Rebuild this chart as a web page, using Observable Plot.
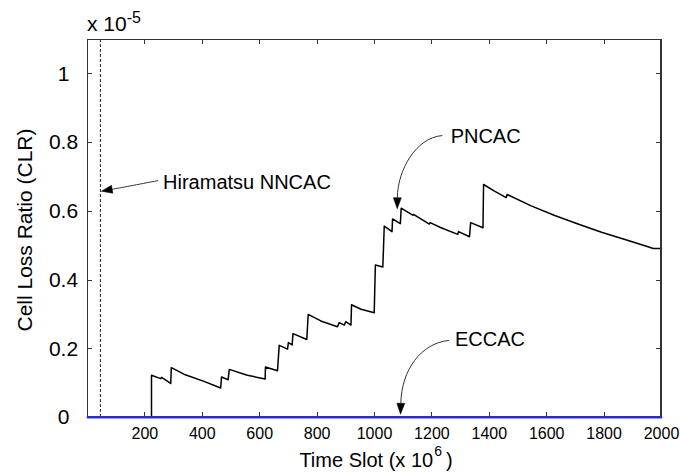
<!DOCTYPE html>
<html><head><meta charset="utf-8">
<script src="https://cdn.jsdelivr.net/npm/d3@7"></script>
<script src="https://cdn.jsdelivr.net/npm/@observablehq/plot@0.6"></script>
<style>
body{margin:0;background:#fff}
#chart{width:680px;height:474px}
</style>
</head><body><div id="chart"></div>
<script>
// ---- data (CLR in units of 1e-5, time slot in units of 1e6) ----
const pncacX = [223,223,255,258,290,292,336,406,464,467,490,494,557,619,620,662,668,697,700,713,716,764,769,813,871,877,895,900,918,920,953,999,1003,1029,1034,1061,1063,1090,1093,1133,1136,1191,1194,1230,1290,1293,1331,1335,1378,1380,1418,1459,1462,1546,1628,1709,1791,1884,1953,1971,2000];
const pncacY = [0,0.123,0.113,0.117,0.099,0.145,0.126,0.105,0.086,0.118,0.110,0.140,0.123,0.112,0.147,0.136,0.210,0.199,0.218,0.211,0.244,0.227,0.300,0.281,0.264,0.276,0.269,0.279,0.269,0.328,0.315,0.305,0.444,0.438,0.557,0.541,0.578,0.564,0.609,0.589,0.591,0.563,0.567,0.553,0.533,0.541,0.526,0.567,0.552,0.678,0.659,0.640,0.649,0.616,0.588,0.563,0.539,0.515,0.497,0.492,0.492];
const eccacX = [0, 2000];
const eccacY = [0, 0];
const hiramatsuX = [45];
const xTicks = [200,400,600,800,1000,1200,1400,1600,1800,2000];
const xTickMarks = [0,200,400,600,800,1000,1200,1400,1600,1800,2000];
const yTicks = [0,0.2,0.4,0.6,0.8,1];
const seriesNames = ["Hiramatsu NNCAC", "PNCAC", "ECCAC"];

const pncac = pncacX.map((x, i) => ({x, y: pncacY[i]}));
const eccac = eccacX.map((x, i) => ({x, y: eccacY[i]}));

// annotation geometry in data units: text anchor + cubic bezier (start, c1, c2, tip)
const annotations = [
  {label: seriesNames[0], at: [265, 0.685], path: [[248, 0.688], [180, 0.677], [110, 0.666], [50, 0.657]]},
  {label: seriesNames[1], at: [1267, 0.819], path: [[1238, 0.819], [1145, 0.813], [1082, 0.717], [1081, 0.606]]},
  {label: seriesNames[2], at: [1282, 0.226], path: [[1261, 0.223], [1162, 0.214], [1096, 0.136], [1092.5, 0.008]]}
];

const FONT = "'Liberation Sans', Arial, Helvetica, sans-serif";
const frameColor = "#333";

const chart = Plot.plot({
  width: 680,
  height: 474,
  marginLeft: 87,
  marginRight: 19,
  marginTop: 39,
  marginBottom: 57,
  x: {domain: [0, 2000], label: null},
  y: {domain: [0, 1.1], label: null},
  style: {fontFamily: FONT, background: "#fff", color: "#000", overflow: "visible"},
  marks: [
    Plot.ruleX(hiramatsuX, {stroke: "#222", strokeWidth: 1, strokeDasharray: "3,2"}),
    Plot.line(pncac, {x: "x", y: "y", stroke: "#000", strokeWidth: 1.5}),
    Plot.frame({stroke: frameColor, strokeWidth: 1}),
    Plot.line(eccac, {x: "x", y: "y", stroke: "#2a2aff", strokeWidth: 2}),
    Plot.axisX(xTicks, {anchor: "bottom", tickSize: 0, tickPadding: 10, fontSize: 16, tickFormat: d => String(d)}),
    Plot.axisY(yTicks, {anchor: "left", tickSize: 0, tickFormat: null, text: null, stroke: null}),
    Plot.text(yTicks, {y: d => d, frameAnchor: "left", dx: -24, textAnchor: "middle", lineAnchor: "middle", fontSize: 21, fill: "#000", text: d => String(+d.toFixed(1))})
  ]
});

document.getElementById("chart").appendChild(chart);

const svg = d3.select(chart);
const W = 680, H = 474, ML = 87, MR = 19, MT = 39, MB = 57;
const L = ML, R = W - MR, T = MT, B = H - MB;
const cx = (L + R) / 2, cy = (T + B) / 2;
const sx = chart.scale("x"), sy = chart.scale("y");
const X = v => sx.apply(v), Y = v => sy.apply(v);

// box edges and inward ticks on all four sides (positions from Plot's own scales)
const tg = svg.append("g").attr("stroke", frameColor).attr("stroke-width", 1)
  .attr("fill", "none").attr("shape-rendering", "crispEdges");
const x0 = Math.round(X(0)) + 0.5, x1 = Math.round(X(2000)) - 0.5;
const y0 = Math.round(Y(0)) - 0.5, y1 = Math.round(Y(1.1)) + 0.5;
tg.append("path").attr("d", `M${x0},${y1}H${x1}V${y0}H${x0}Z`);
for (const t of xTickMarks) {
  const px = Math.round(X(t)) + 0.5;
  tg.append("path").attr("d", `M${px},${B}V${B - 5}M${px},${T}V${T + 5}`);
}
for (const t of yTicks) {
  const py = Math.round(Y(t)) + 0.5;
  tg.append("path").attr("d", `M${L},${py}H${L + 5}M${R},${py}H${R - 5}`);
}

// annotation arrows with filled heads
const ag = svg.append("g");
for (const a of annotations) {
  const [s, c1, c2, e] = a.path.map(([dx, dy]) => [X(dx), Y(dy)]);
  let tx = e[0] - c2[0], ty = e[1] - c2[1];
  const n = Math.hypot(tx, ty) || 1; tx /= n; ty /= n;
  const len = 11, hw = 4;
  const bx = e[0] - tx * len, by = e[1] - ty * len;
  ag.append("path")
    .attr("d", `M${s[0]},${s[1]}C${c1[0]},${c1[1]} ${c2[0]},${c2[1]} ${bx},${by}`)
    .attr("fill", "none").attr("stroke", "#333").attr("stroke-width", 1);
  ag.append("path")
    .attr("d", `M${e[0]},${e[1]}L${bx - ty * hw},${by + tx * hw}L${bx + ty * hw},${by - tx * hw}Z`)
    .attr("fill", "#000").attr("stroke", "#000").attr("stroke-width", 0.5);
  ag.append("text")
    .attr("x", X(a.at[0])).attr("y", Y(a.at[1]))
    .attr("dy", "0.35em").attr("font-size", 20).attr("fill", "#000")
    .attr("text-anchor", "start").attr("font-family", FONT)
    .text(a.label);
}

// keep the blue ECCAC line above the box edge
svg.selectAll("g[aria-label='line']").filter((d, i, nodes) => i === nodes.length - 1).raise();

// axis titles and exponent label
const xl = svg.append("text").attr("x", cx + 2).attr("y", 467).attr("text-anchor", "middle")
  .attr("font-size", 20).attr("font-family", FONT).attr("fill", "#000");
xl.append("tspan").text("Time Slot (x 10");
xl.append("tspan").attr("dx", 1).attr("dy", -11).attr("font-size", 14).text("6");
xl.append("tspan").attr("dy", 11).text("\u2009)");

svg.append("text").attr("transform", `translate(32,${cy + 2}) rotate(-90)`).attr("text-anchor", "middle")
  .attr("font-size", 21).attr("font-family", FONT).attr("fill", "#000")
  .text("Cell Loss Ratio (CLR)");

const ex = svg.append("text").attr("x", ML).attr("y", 31).attr("font-size", 21)
  .attr("text-anchor", "start").attr("font-family", FONT).attr("fill", "#000");
ex.append("tspan").text("x 10");
ex.append("tspan").attr("dy", -8).attr("font-size", 16).text("-5");
</script>
</body></html>
